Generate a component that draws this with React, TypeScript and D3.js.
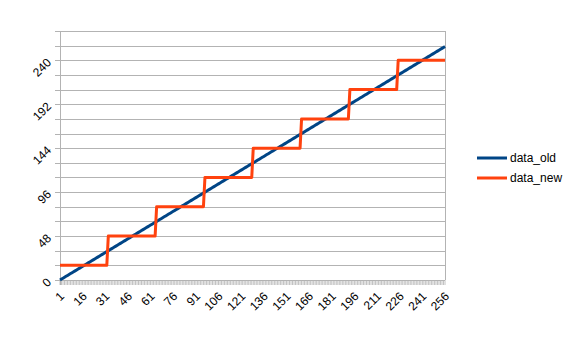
import React from "react";
import * as d3 from "d3";

const categories: number[] = d3.range(1, 257);
const xTickLabels: number[] = [1, 16, 31, 46, 61, 76, 91, 106, 121, 136, 151, 166, 181, 196, 211, 226, 241, 256];
const yTickLabels: number[] = [0, 48, 96, 144, 192, 240];
const yGridValues: number[] = [0, 16, 32, 48, 64, 80, 96, 112, 128, 144, 160, 176, 192, 208, 224, 240, 256, 272];

const data_old: number[] = [
  0, 1, 2, 3, 4, 5, 6, 7, 8, 9, 10, 11, 12, 13, 14, 15,
  16, 17, 18, 19, 20, 21, 22, 23, 24, 25, 26, 27, 28, 29, 30, 31,
  32, 33, 34, 35, 36, 37, 38, 39, 40, 41, 42, 43, 44, 45, 46, 47,
  48, 49, 50, 51, 52, 53, 54, 55, 56, 57, 58, 59, 60, 61, 62, 63,
  64, 65, 66, 67, 68, 69, 70, 71, 72, 73, 74, 75, 76, 77, 78, 79,
  80, 81, 82, 83, 84, 85, 86, 87, 88, 89, 90, 91, 92, 93, 94, 95,
  96, 97, 98, 99, 100, 101, 102, 103, 104, 105, 106, 107, 108, 109, 110, 111,
  112, 113, 114, 115, 116, 117, 118, 119, 120, 121, 122, 123, 124, 125, 126, 127,
  128, 129, 130, 131, 132, 133, 134, 135, 136, 137, 138, 139, 140, 141, 142, 143,
  144, 145, 146, 147, 148, 149, 150, 151, 152, 153, 154, 155, 156, 157, 158, 159,
  160, 161, 162, 163, 164, 165, 166, 167, 168, 169, 170, 171, 172, 173, 174, 175,
  176, 177, 178, 179, 180, 181, 182, 183, 184, 185, 186, 187, 188, 189, 190, 191,
  192, 193, 194, 195, 196, 197, 198, 199, 200, 201, 202, 203, 204, 205, 206, 207,
  208, 209, 210, 211, 212, 213, 214, 215, 216, 217, 218, 219, 220, 221, 222, 223,
  224, 225, 226, 227, 228, 229, 230, 231, 232, 233, 234, 235, 236, 237, 238, 239,
  240, 241, 242, 243, 244, 245, 246, 247, 248, 249, 250, 251, 252, 253, 254, 255,
];

const data_new: number[] = [
  16, 16, 16, 16, 16, 16, 16, 16, 16, 16, 16, 16, 16, 16, 16, 16,
  16, 16, 16, 16, 16, 16, 16, 16, 16, 16, 16, 16, 16, 16, 16, 16,
  48, 48, 48, 48, 48, 48, 48, 48, 48, 48, 48, 48, 48, 48, 48, 48,
  48, 48, 48, 48, 48, 48, 48, 48, 48, 48, 48, 48, 48, 48, 48, 48,
  80, 80, 80, 80, 80, 80, 80, 80, 80, 80, 80, 80, 80, 80, 80, 80,
  80, 80, 80, 80, 80, 80, 80, 80, 80, 80, 80, 80, 80, 80, 80, 80,
  112, 112, 112, 112, 112, 112, 112, 112, 112, 112, 112, 112, 112, 112, 112, 112,
  112, 112, 112, 112, 112, 112, 112, 112, 112, 112, 112, 112, 112, 112, 112, 112,
  144, 144, 144, 144, 144, 144, 144, 144, 144, 144, 144, 144, 144, 144, 144, 144,
  144, 144, 144, 144, 144, 144, 144, 144, 144, 144, 144, 144, 144, 144, 144, 144,
  176, 176, 176, 176, 176, 176, 176, 176, 176, 176, 176, 176, 176, 176, 176, 176,
  176, 176, 176, 176, 176, 176, 176, 176, 176, 176, 176, 176, 176, 176, 176, 176,
  208, 208, 208, 208, 208, 208, 208, 208, 208, 208, 208, 208, 208, 208, 208, 208,
  208, 208, 208, 208, 208, 208, 208, 208, 208, 208, 208, 208, 208, 208, 208, 208,
  240, 240, 240, 240, 240, 240, 240, 240, 240, 240, 240, 240, 240, 240, 240, 240,
  240, 240, 240, 240, 240, 240, 240, 240, 240, 240, 240, 240, 240, 240, 240, 240,
];

const seriesNames = ["data_old", "data_new"];
const seriesColors = ["#004586", "#ff420e"];

const W = 574;
const H = 337;
const left = 60;
const right = 445;
const top = 31;
const bottom = 280;
const gridColor = "#b3b3b3";
const font = "'Liberation Sans', Arial, sans-serif";

export default function App() {
  const x = d3.scalePoint<number>().domain(categories).range([left, right]);
  const y = d3.scaleLinear().domain([0, 272]).range([bottom, top]);
  const line = d3
    .line<number>()
    .x((_, i) => x(categories[i]) as number)
    .y((d) => y(d));
  const series = [data_old, data_new];

  return (
    <svg
      width={W}
      height={H}
      style={{ position: "absolute", left: 0, top: 0, background: "#fff" }}
      fontFamily={font}
    >
      {yGridValues.map((v) => (
        <line key={"g" + v} x1={left - 5} x2={right} y1={Math.round(y(v)) + 0.5} y2={Math.round(y(v)) + 0.5} stroke={gridColor} strokeWidth={1} />
      ))}
      <line x1={left + 0.5} x2={left + 0.5} y1={top} y2={bottom + 5} stroke={gridColor} strokeWidth={1} />
      <line x1={right + 0.5} x2={right + 0.5} y1={top} y2={bottom} stroke={gridColor} strokeWidth={1} />
      {categories.map((c) => (
        <line key={"t" + c} x1={(x(c) as number)} x2={(x(c) as number)} y1={bottom} y2={bottom + 5} stroke={gridColor} strokeWidth={0.8} />
      ))}
      {yTickLabels.map((v) => (
        <text
          key={"yl" + v}
          transform={`translate(${49},${y(v)}) rotate(-45)`}
          textAnchor="end"
          dy="0.35em"
          fontSize={12}
          fill="#000"
        >
          {v}
        </text>
      ))}
      {xTickLabels.map((c) => (
        <text
          key={"xl" + c}
          transform={`translate(${(x(c) as number) + 2},${294}) rotate(-45)`}
          textAnchor="end"
          dy="0.35em"
          fontSize={12}
          fill="#000"
        >
          {c}
        </text>
      ))}
      {series.map((s, i) => (
        <path key={"s" + i} d={line(s) || ""} fill="none" stroke={seriesColors[i]} strokeWidth={3} strokeLinejoin="round" />
      ))}
      {seriesNames.map((n, i) => (
        <g key={"lg" + n} transform={`translate(477,${158 + i * 20})`}>
          <line x1={0} x2={30} y1={0} y2={0} stroke={seriesColors[i]} strokeWidth={3} />
          <text x={33} y={0} dy="0.35em" fontSize={12} fill="#000">
            {n}
          </text>
        </g>
      ))}
    </svg>
  );
}
